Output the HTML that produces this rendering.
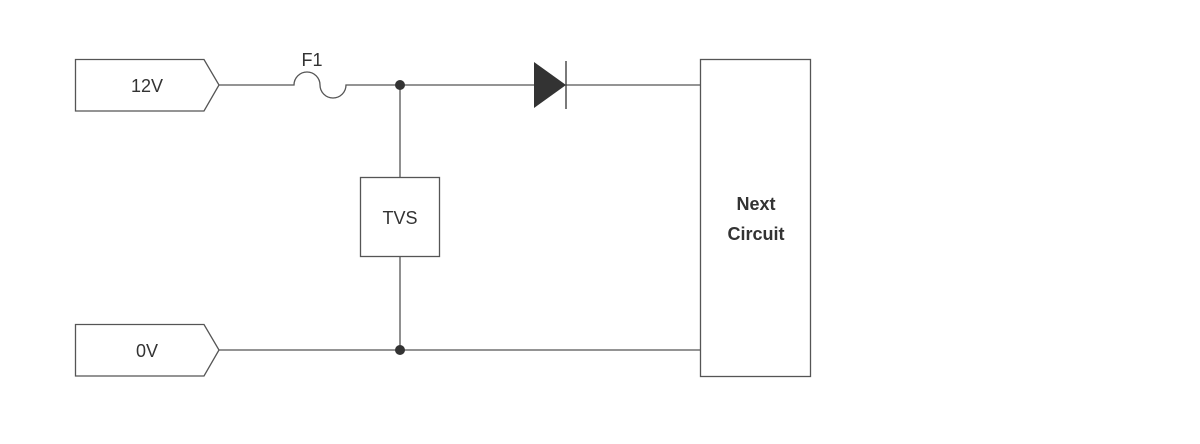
<!DOCTYPE html>
<html><head><style>html,body{margin:0;padding:0;background:#fff;}svg{display:block}</style></head>
<body>
<svg width="1200" height="444" viewBox="0 0 1200 444" xmlns="http://www.w3.org/2000/svg">
<g fill="none" stroke="#555" stroke-width="1.3">
<polygon points="75.5,59.5 204,59.5 219,85 204,111 75.5,111"/>
<polygon points="75.5,324.5 204,324.5 219,350 204,376 75.5,376"/>
<path d="M219,85 H294 A13,13 0 0 1 320,85 A13,13 0 0 0 346,85 H534"/>
<path d="M566,85 H700"/>
<path d="M400,85 V177 M400,257 V350"/>
<path d="M219,350 H700"/>
<rect x="360.5" y="177.5" width="79" height="79"/>
<rect x="700.5" y="59.5" width="110" height="317"/>
<path d="M566,61 V109" stroke="#333"/>
</g>
<polygon points="534,62 566,85 534,108" fill="#333"/>
<circle cx="400" cy="85" r="5" fill="#333"/>
<circle cx="400" cy="350" r="5" fill="#333"/>
<g font-family="Liberation Sans, sans-serif" fill="#333" font-size="18" text-anchor="middle">
<text x="147" y="92">12V</text>
<text x="147" y="357">0V</text>
<text x="312" y="66">F1</text>
<text x="400" y="224">TVS</text>
<text x="756" y="210" font-weight="bold">Next</text>
<text x="756" y="240" font-weight="bold">Circuit</text>
</g>
</svg>
</body></html>
